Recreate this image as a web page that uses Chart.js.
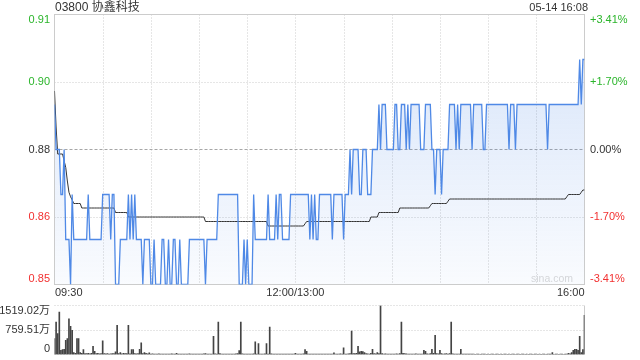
<!DOCTYPE html>
<html><head><meta charset="utf-8">
<script src="https://cdn.jsdelivr.net/npm/chart.js@4.4.0/dist/chart.umd.min.js"></script>
<style>
html,body{margin:0;padding:0;background:#fff;}
#wrap{position:relative;width:640px;height:360px;overflow:hidden;}
#main{position:absolute;left:0;top:0;}
#vol{position:absolute;left:0;top:300px;}
</style></head><body>
<div id="wrap"><canvas id="main" width="640" height="300"></canvas><canvas id="vol" width="640" height="60"></canvas></div>
<script>
const title = '03800 协鑫科技';
const stamp = '05-14 16:08';
const watermark = 'sina.com';
const prevClose = 0.88;

// one value per trading minute (09:30-12:00, 13:00-16:00)
const prices = [
.89,.88,.88,.88,.87,.87,.88,.86,.86,.86,
.85,.87,.86,.86,.86,.86,.86,.86,.86,.86,
.86,.87,.86,.86,.86,.86,.86,.86,.86,.86,
.87,.87,.87,.87,.87,.86,.87,.87,.85,.85,
.85,.86,.86,.86,.86,.86,.87,.86,.87,.86,
.87,.86,.86,.86,.86,.85,.86,.86,.86,.86,
.85,.85,.86,.85,.85,.85,.85,.86,.86,.85,
.85,.86,.85,.85,.86,.86,.85,.85,.86,.85,
.85,.85,.85,.85,.86,.86,.86,.86,.86,.86,
.86,.86,.86,.86,.85,.86,.86,.86,.86,.86,
.86,.86,.87,.87,.87,.87,.87,.87,.87,.87,
.87,.87,.87,.87,.87,.85,.85,.85,.86,.85,
.86,.85,.85,.85,.87,.86,.86,.86,.86,.86,
.86,.86,.86,.87,.86,.86,.86,.86,.87,.86,
.87,.87,.86,.86,.86,.86,.86,.87,.87,.87,
.87,.87,.87,.87,.87,.87,.87,.87,.87,.86,
.87,.86,.87,.86,.86,.87,.87,.87,.87,.87,
.87,.87,.87,.86,.87,.87,.87,.87,.87,.87,
.86,.87,.87,.87,.88,.87,.88,.88,.88,.88,
.87,.87,.88,.88,.88,.87,.87,.87,.88,.88,
.88,.88,.89,.88,.89,.89,.89,.88,.88,.88,
.88,.88,.89,.89,.88,.88,.89,.89,.89,.88,
.89,.88,.89,.89,.89,.89,.89,.89,.88,.88,
.88,.89,.89,.89,.89,.88,.88,.87,.88,.88,
.88,.87,.88,.88,.88,.88,.89,.89,.89,.89,
.88,.89,.88,.89,.89,.89,.89,.89,.89,.89,
.88,.89,.89,.89,.89,.89,.89,.88,.88,.89,
.89,.89,.89,.89,.89,.89,.89,.89,.89,.89,
.89,.89,.89,.88,.89,.89,.89,.88,.89,.89,
.89,.89,.89,.89,.89,.89,.89,.89,.89,.89,
.89,.89,.89,.89,.89,.89,.89,.88,.89,.89,
.89,.89,.89,.89,.89,.89,.89,.89,.89,.89,
.89,.89,.89,.89,.89,.89,.89,.90,.89,.90,
.90
];

const avgPrices = [
.893,.885,.879,.879,.879,.879,.8775,.876,.873,.8705,
.8695,.8688,.868,.868,.868,.868,.868,.867,.867,.867,
.867,.867,.867,.867,.867,.867,.867,.867,.867,.867,
.867,.867,.867,.867,.867,.867,.867,.867,.866,.866,
.866,.866,.866,.866,.866,.866,.865,.865,.865,.865,
.865,.865,.865,.865,.865,.865,.865,.865,.865,.865,
.865,.865,.865,.865,.865,.865,.865,.865,.865,.865,
.865,.865,.865,.865,.865,.865,.865,.865,.865,.865,
.865,.865,.865,.865,.865,.865,.865,.865,.865,.865,
.865,.865,.865,.865,.864,.864,.864,.864,.864,.864,
.864,.864,.864,.864,.864,.864,.864,.864,.864,.864,
.864,.864,.864,.864,.864,.864,.864,.864,.864,.864,
.864,.864,.864,.864,.864,.864,.864,.864,.864,.864,
.864,.864,.864,.863,.863,.863,.863,.863,.863,.863,
.863,.863,.863,.863,.863,.863,.863,.863,.863,.863,
.863,.863,.863,.863,.863,.863,.8635,.864,.864,.864,
.864,.864,.864,.864,.864,.864,.864,.864,.864,.864,
.864,.864,.864,.864,.864,.864,.864,.864,.864,.864,
.864,.864,.864,.864,.864,.864,.864,.864,.864,.864,
.864,.864,.864,.864,.864,.864,.864,.865,.865,.865,
.865,.865,.866,.866,.866,.866,.866,.866,.866,.866,
.866,.866,.866,.866,.866,.867,.867,.867,.867,.867,
.867,.867,.867,.867,.867,.867,.867,.867,.867,.867,
.867,.867,.867,.867,.8675,.868,.868,.868,.868,.868,
.868,.868,.868,.868,.868,.8685,.869,.869,.869,.869,
.869,.869,.869,.869,.869,.869,.869,.869,.869,.869,
.869,.869,.869,.869,.869,.869,.869,.869,.869,.869,
.869,.869,.869,.869,.869,.869,.869,.869,.869,.869,
.869,.869,.869,.869,.869,.869,.869,.869,.869,.869,
.869,.869,.869,.869,.869,.869,.869,.869,.869,.869,
.869,.869,.869,.869,.869,.869,.869,.869,.869,.869,
.869,.869,.869,.869,.869,.869,.869,.869,.869,.8695,
.870,.870,.870,.870,.870,.870,.870,.870,.8705,.871,
.871
];

// volume per minute, in 万
const volumes = [
493,1004,647,1313,132,150,160,440,493,1109,
872,749,60,40,493,493,60,40,150,30,
25,40,20,35,256,100,30,40,20,25,
420,30,20,25,15,20,30,25,80,903,
30,60,20,40,25,30,903,20,150,150,
30,20,25,160,358,30,60,40,20,50,
15,20,10,15,12,20,10,15,12,10,
15,12,10,20,10,15,40,12,10,15,
10,12,15,10,20,12,10,15,10,12,
15,10,12,20,25,15,10,12,15,564,
20,15,1004,30,15,12,10,15,12,10,
15,12,10,20,30,120,1004,20,15,12,
15,10,12,15,20,389,15,339,12,15,
10,20,339,15,851,20,12,10,15,12,
10,12,15,10,12,15,10,12,10,15,
40,15,12,10,15,20,150,100,15,10,
12,15,10,12,15,10,12,10,15,12,
10,15,12,10,50,15,12,10,20,15,
204,15,12,20,30,728,25,30,40,256,
80,100,90,60,30,20,15,40,160,25,
20,60,30,1519,25,15,20,12,15,10,
15,12,10,20,15,25,1004,40,30,20,
15,12,10,15,12,20,15,10,12,15,
130,100,20,15,30,160,40,595,30,20,
130,25,15,20,30,15,25,1004,20,15,
12,15,10,160,15,12,10,15,12,10,
10,12,8,10,12,8,10,12,10,8,
10,8,12,10,8,10,12,8,10,8,
10,12,8,10,8,12,10,8,10,12,
8,10,12,8,10,8,12,10,8,10,
12,8,10,8,12,10,8,10,12,10,
60,8,12,10,8,10,12,8,10,15,
40,20,60,130,160,160,130,564,60,150,
1211
];

const yTickValues = [0.91, 0.895, 0.88, 0.865, 0.85];
const yTickLabels = ['0.91', '0.90', '0.88', '0.86', '0.85'];
const pctLabels = ['+3.41%', '+1.70%', '0.00%', '-1.70%', '-3.41%'];
const xTickMinutes = [0, 150, 330];
const xTickLabels = ['09:30', '12:00/13:00', '16:00'];
const volTickValues = [1519.02, 759.51, 0];
const volTickLabels = ['1519.02万', '759.51万', '0'];

const FONT = '"Liberation Sans", Arial, "Noto Sans CJK SC", sans-serif';
const GREEN = '#2bb52b', RED = '#f23030', DARK = '#333333';
const GRID = '#cccccc';
function colorFor(v){ return v > prevClose + 1e-9 ? GREEN : (v < prevClose - 1e-9 ? RED : DARK); }
function hline(ctx, x1, x2, y){ ctx.beginPath(); ctx.moveTo(x1, y); ctx.lineTo(x2, y); ctx.stroke(); }
function vline(ctx, x, y1, y2){ ctx.beginPath(); ctx.moveTo(x, y1); ctx.lineTo(x, y2); ctx.stroke(); }

const mainDeco = {
  id: 'mainDeco',
  beforeDraw(chart){
    const {ctx, chartArea: a, scales: {x, y}} = chart;
    ctx.save();
    ctx.lineWidth = 1;
    ctx.strokeStyle = GRID;
    ctx.setLineDash([1, 2]);
    for (let m = 30; m < 330; m += 30) {
      const px = Math.round(x.getPixelForValue(m)) + 0.5;
      vline(ctx, px, a.top, a.bottom);
    }
    yTickValues.forEach(v => {
      if (v === prevClose || v === yTickValues[0] || v === yTickValues[yTickValues.length-1]) return;
      const py = Math.floor(y.getPixelForValue(v)) + 0.5;
      hline(ctx, a.left, a.right, py);
    });
    ctx.strokeStyle = '#a6a6a6';
    ctx.setLineDash([3, 2]);
    hline(ctx, a.left, a.right, Math.floor(y.getPixelForValue(prevClose)) + 0.5);
    ctx.setLineDash([]);
    ctx.strokeStyle = '#cccccc';
    ctx.strokeRect(a.left, a.top, a.right - a.left, a.bottom - a.top);
    ctx.font = '10.5px ' + FONT;
    ctx.fillStyle = '#d9d9d9';
    ctx.textAlign = 'right';
    ctx.textBaseline = 'middle';
    ctx.fillText(watermark, 573, 279);
    ctx.restore();
  },
  afterDraw(chart){
    const {ctx, scales: {x, y}} = chart;
    ctx.save();
    ctx.font = '12px ' + FONT;
    ctx.fillStyle = DARK;
    ctx.textAlign = 'left';
    ctx.textBaseline = 'middle';
    ctx.fillText(title, 55, 7.5);
    ctx.font = '11px ' + FONT;
    ctx.textAlign = 'right';
    ctx.fillText(stamp, 588, 7.8);
    const n = yTickValues.length;
    yTickValues.forEach((v, i) => {
      const py = y.getPixelForValue(v);
      ctx.textBaseline = i === 0 ? 'top' : (i === n - 1 ? 'bottom' : 'middle');
      ctx.fillStyle = colorFor(v);
      ctx.textAlign = 'right';
      ctx.fillText(yTickLabels[i], 50, py);
      ctx.textAlign = 'left';
      ctx.fillText(pctLabels[i], 590, py);
    });
    ctx.fillStyle = DARK;
    ctx.textBaseline = 'middle';
    xTickMinutes.forEach((m, i) => {
      const px = x.getPixelForValue(m);
      ctx.textAlign = i === 0 ? 'left' : (i === xTickMinutes.length - 1 ? 'right' : 'center');
      ctx.fillText(xTickLabels[i], i === 0 ? px + 0.5 : px, 293);
    });
    ctx.restore();
  }
};

new Chart(document.getElementById('main'), {
  type: 'line',
  data: {
    datasets: [
      {
        data: prices.map((v, i) => ({x: i, y: v})),
        borderColor: '#4f89e6',
        borderWidth: 1.3,
        pointRadius: 0,
        tension: 0,
        fill: 'start',
        backgroundColor: (c) => {
          const {ctx, chartArea} = c.chart;
          if (!chartArea) return 'rgba(79,137,230,0.1)';
          const g = ctx.createLinearGradient(0, chartArea.top, 0, chartArea.bottom);
          g.addColorStop(0, 'rgba(79,137,230,0.24)');
          g.addColorStop(1, 'rgba(79,137,230,0.03)');
          return g;
        }
      },
      {
        data: avgPrices.map((v, i) => ({x: i, y: v})),
        borderColor: '#333333',
        borderWidth: 1,
        pointRadius: 0,
        tension: 0,
        fill: false
      }
    ]
  },
  options: {
    responsive: false,
    animation: false,
    events: [],
    layout: {padding: {left: 54.5, right: 55.5, top: 14.5, bottom: 15.5}},
    scales: {
      x: {type: 'linear', display: false, min: 0, max: 330},
      y: {type: 'linear', display: false, min: 0.85, max: 0.91}
    },
    plugins: {
      legend: {display: false},
      tooltip: {enabled: false},
      filler: {drawTime: 'beforeDatasetsDraw'}
    }
  },
  plugins: [mainDeco]
});

const volDeco = {
  id: 'volDeco',
  beforeDatasetsDraw(chart){
    const {ctx, chartArea: a, scales: {y}} = chart;
    ctx.save();
    ctx.lineWidth = 1;
    ctx.strokeStyle = GRID;
    ctx.setLineDash([1, 2]);
    volTickValues.forEach(v => {
      const py = Math.floor(y.getPixelForValue(v)) + 0.5;
      hline(ctx, a.left, a.right, py);
    });
    ctx.setLineDash([]);
    ctx.strokeStyle = '#cccccc';
    vline(ctx, a.right, a.top, a.bottom);
    ctx.restore();
  },
  afterDraw(chart){
    const {ctx, scales: {y}} = chart;
    ctx.save();
    ctx.font = '11px ' + FONT;
    ctx.fillStyle = DARK;
    ctx.textAlign = 'right';
    const n = volTickValues.length;
    volTickValues.forEach((v, i) => {
      ctx.textBaseline = i === 0 ? 'top' : (i === n - 1 ? 'bottom' : 'middle');
      ctx.fillText(volTickLabels[i], 50, y.getPixelForValue(v));
    });
    ctx.restore();
  }
};

new Chart(document.getElementById('vol'), {
  type: 'bar',
  data: {
    datasets: [{
      data: volumes.map((v, i) => ({x: i, y: v})),
      backgroundColor: '#444444',
      borderWidth: 0,
      barThickness: 1
    }]
  },
  options: {
    responsive: false,
    animation: false,
    events: [],
    layout: {padding: {left: 54.5, right: 55.5, top: 5.5, bottom: 5.5}},
    scales: {
      x: {type: 'linear', display: false, min: 0, max: 330, offset: false},
      y: {type: 'linear', display: false, min: 0, max: 1519.02}
    },
    plugins: {legend: {display: false}, tooltip: {enabled: false}}
  },
  plugins: [volDeco]
});
</script>
</body></html>
